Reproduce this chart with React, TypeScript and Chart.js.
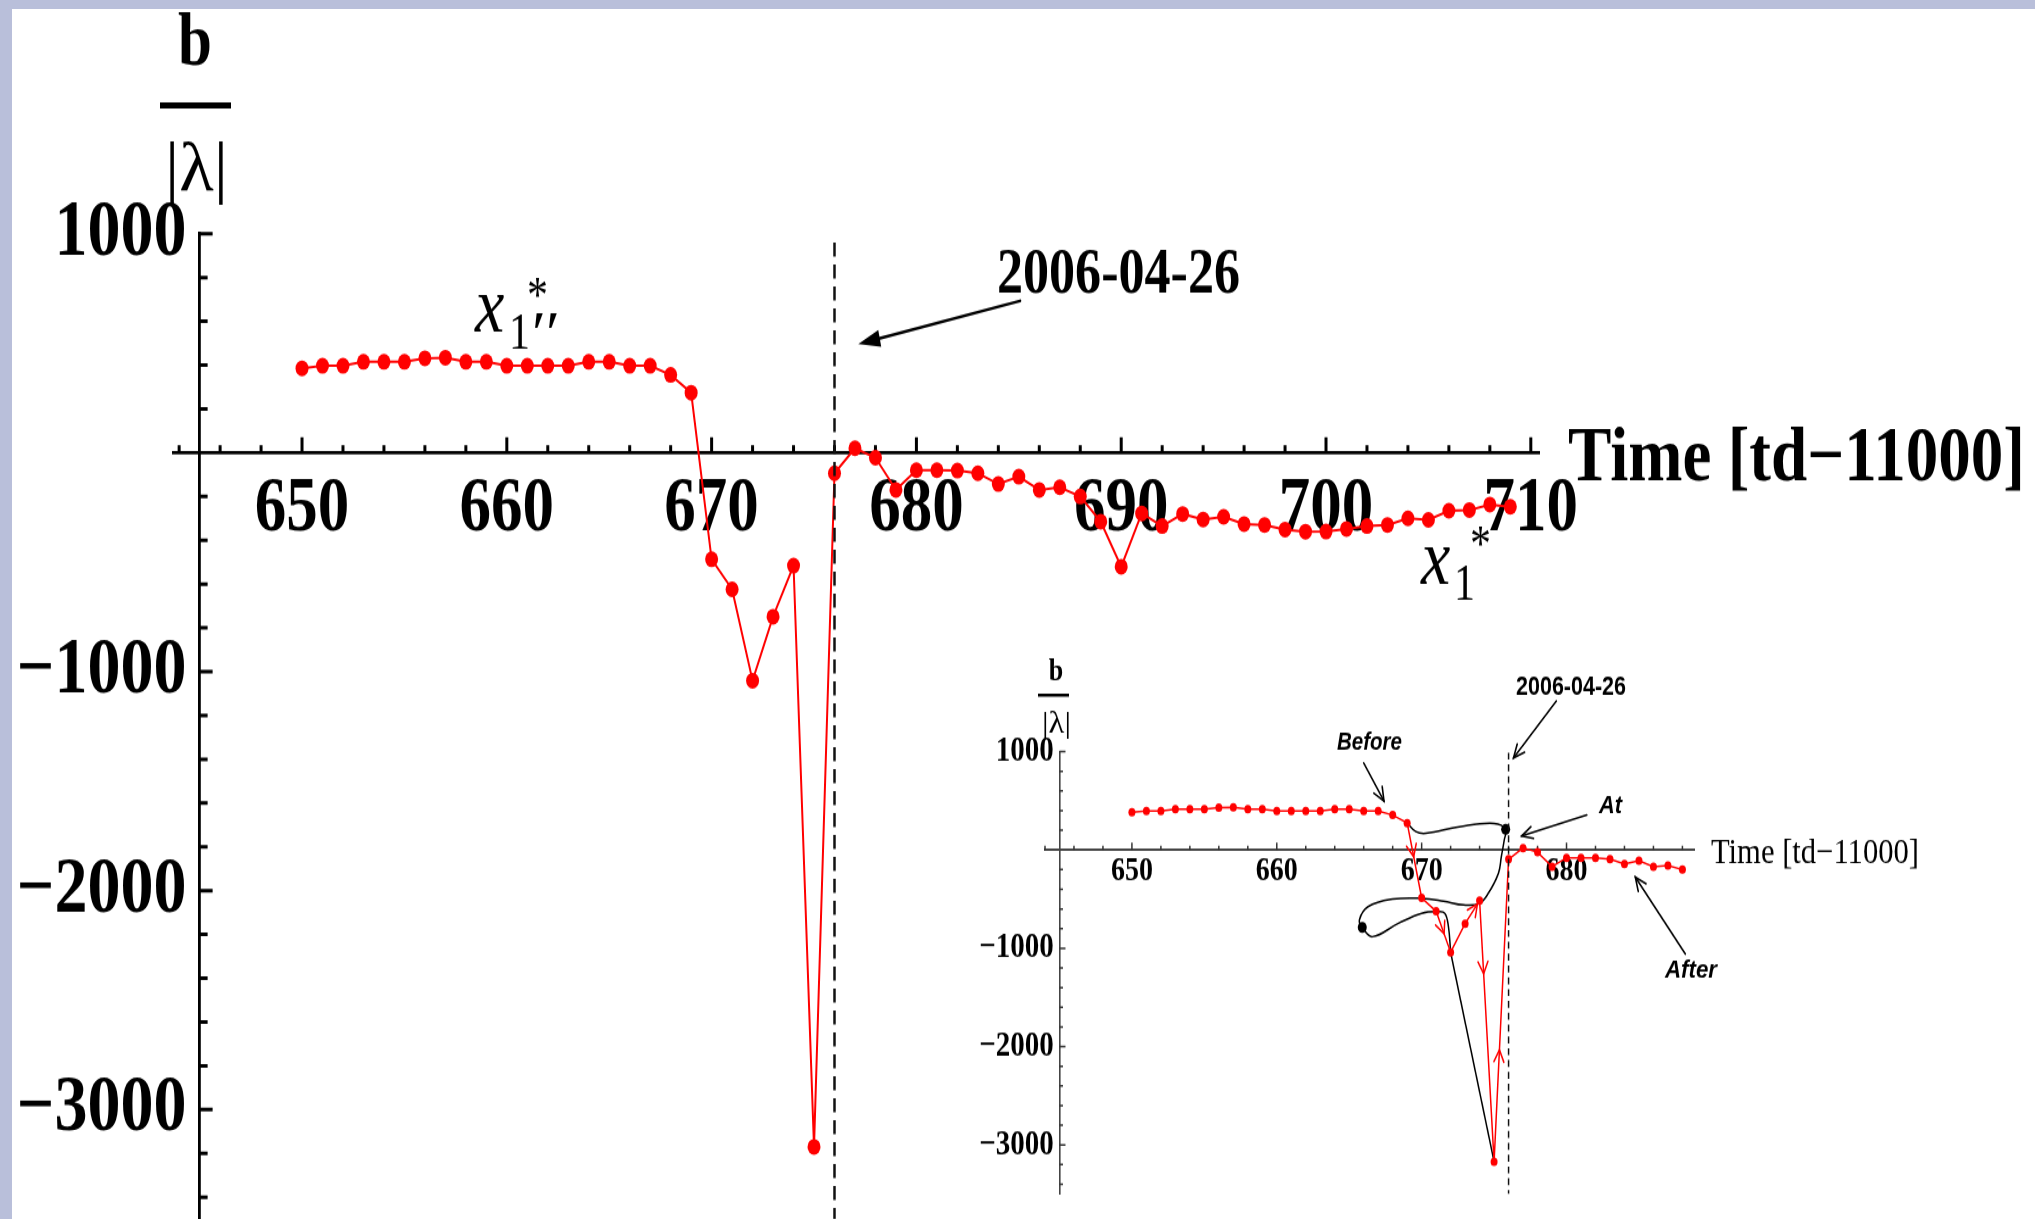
import React, { useEffect, useRef } from "react";
import { Chart, registerables } from "chart.js";

Chart.register(...registerables);

// ---------------- data ----------------
const days = [
  650, 651, 652, 653, 654, 655, 656, 657, 658, 659,
  660, 661, 662, 663, 664, 665, 666, 667, 668, 669,
  670, 671, 672, 673, 674, 675, 676, 677, 678, 679,
  680, 681, 682, 683, 684, 685, 686, 687, 688, 689,
  690, 691, 692, 693, 694, 695, 696, 697, 698, 699,
  700, 701, 702, 703, 704, 705, 706, 707, 708, 709,
];
const ratio = [
  385, 397, 397, 415, 415, 415, 431, 434, 415, 415,
  397, 397, 397, 397, 415, 415, 397, 397, 355, 274,
  -487, -624, -1041, -749, -516, -3170, -94, 20, -23, -170,
  -80, -80, -82, -94, -143, -110, -170, -158, -200, -315,
  -521, -277, -335, -280, -305, -293, -326, -330, -351, -361,
  -360, -348, -335, -330, -300, -307, -265, -262, -237, -247,
];
const insetLastDay = 688;
const eventDay = 676;
const eventLineTop = 960;
const eventLabel = "2006-04-26";
const xAxisTitle = "Time [td\u221211000]";
const yTitleTop = "b";
const yTitleBottom = "|\u03bb|";
const mainYLabels = [1000, -1000, -2000, -3000];
const mainXLabels = [650, 660, 670, 680, 690, 700, 710];
const insetXLabels = [650, 660, 670, 680];
const insetWords = ["Before", "At", "After"];
// hand-drawn black trajectory of the inset (data units)
const loopX = [669.0, 669.6, 670.3, 672.6, 675.0, 675.8, 675.7, 675.5, 675.3, 674.6, 674.0, 672.9, 671.5, 670.0, 668.0, 666.3, 665.7, 665.9, 666.6, 668.4, 670.0, 671.1, 671.6, 671.85, 672.0];
const loopY = [274, 187, 170, 237, 271, 210, 102, -68, -237, -441, -542, -559, -520, -492, -500, -577, -712, -787, -882, -746, -644, -627, -644, -780, -1041];
const tailX = [672.0, 675.0];
const tailY = [-1041, -3170];
const markX = [675.8, 665.9];
const markY = [210, -787];
// red direction arrows on inset segments: start day and fraction along segment
const flowFrom = [669, 671, 673, 674, 675];
const flowAt = [0.45, 0.55, 0.85, 0.28, 0.37];

// ---------------- drawing helpers ----------------
const STRETCH = 1.219;
const SERIF = '"Liberation Serif", "Times New Roman", Times, serif';
const SANS = '"Liberation Sans", Arial, sans-serif';

function fmt(v: number) {
  return (v < 0 ? "\u2212" + Math.abs(v) : String(v)) + "\u2009";
}

function txt(ctx: CanvasRenderingContext2D, s: string, x: number, y: number, font: string, align: string, width?: number) {
  ctx.save();
  ctx.font = font;
  ctx.textBaseline = "alphabetic";
  ctx.textAlign = "left";
  const m = ctx.measureText(s).width;
  const sx = width ? width / m : 1;
  const w = m * sx;
  const x0 = align === "left" ? x : align === "center" ? x - w / 2 : x - w;
  ctx.translate(x0, y);
  ctx.scale(sx, 1);
  ctx.fillStyle = "#000";
  ctx.fillText(s, 0, 0);
  ctx.restore();
}

function arrow(ctx: CanvasRenderingContext2D, x1: number, y1: number, x2: number, y2: number, o: any) {
  const a = Math.atan2(y2 - y1, x2 - x1);
  const c = Math.cos(a), s = Math.sin(a);
  ctx.save();
  ctx.strokeStyle = o.color;
  ctx.fillStyle = o.color;
  ctx.lineWidth = o.width;
  ctx.lineCap = "round";
  const bx = x2 - o.head * c, by = y2 - o.head * s;
  if (o.shaft !== false) {
    ctx.beginPath();
    ctx.moveTo(x1, y1);
    ctx.lineTo(o.filled ? bx + 2 * c : x2, o.filled ? by + 2 * s : y2);
    ctx.stroke();
  }
  const lx = bx + o.half * s, ly = by - o.half * c;
  const rx = bx - o.half * s, ry = by + o.half * c;
  ctx.beginPath();
  if (o.filled) {
    ctx.moveTo(x2, y2);
    ctx.lineTo(lx, ly);
    ctx.lineTo(rx, ry);
    ctx.closePath();
    ctx.fill();
  } else {
    ctx.moveTo(lx, ly);
    ctx.lineTo(x2, y2);
    ctx.lineTo(rx, ry);
    ctx.stroke();
  }
  ctx.restore();
}

function drawTicks(chart: any, o: any) {
  const ctx = chart.ctx;
  const xs = chart.scales.x, ys = chart.scales.y;
  const ay = ys.getPixelForValue(0);
  const ax = xs.getPixelForValue(645);
  ctx.save();
  ctx.strokeStyle = o.color;
  ctx.lineWidth = o.width;
  ctx.beginPath();
  xs.ticks.forEach((t: any) => {
    const px = xs.getPixelForValue(t.value);
    const len = Math.round(t.value) % 10 === 0 ? o.xMajor : o.xMinor;
    ctx.moveTo(px, ay);
    ctx.lineTo(px, ay - len);
  });
  ys.ticks.forEach((t: any) => {
    const v = Math.round(t.value);
    if (v === 0) return;
    const py = ys.getPixelForValue(t.value);
    const len = v % 1000 === 0 ? o.yMajor : o.yMinor;
    ctx.moveTo(ax, py);
    ctx.lineTo(ax + len, py);
  });
  ctx.stroke();
  ctx.restore();
}

function pts(xs: number[], ys: number[]) {
  return xs.map((x, i) => ({ x, y: ys[i] }));
}

export default function App() {
  const mainRef = useRef<HTMLCanvasElement>(null);
  const insetRef = useRef<HTMLCanvasElement>(null);

  useEffect(() => {
    const charts: any[] = [];
    const series = pts(days, ratio);

    // ---------- main chart ----------
    const mainYMin = -3499, mainYMax = 1000;
    const mainDecor = {
      id: "mainDecor",
      beforeDatasetsDraw(chart: any) {
        drawTicks(chart, { color: "#000", width: 3, xMajor: 12.5, xMinor: 6, yMajor: 13, yMinor: 8 });
      },
      afterDraw(chart: any) {
        const ctx = chart.ctx;
        const xs = chart.scales.x, ys = chart.scales.y;
        // y title fraction
        txt(ctx, yTitleTop, 195, 53.3, `bold 61px ${SERIF}`, "center");
        ctx.fillStyle = "#000";
        ctx.fillRect(160, 84, 71, 5);
        txt(ctx, yTitleBottom, 196.5, 156, `58px ${SERIF}`, "center", 63);
        // x title
        txt(ctx, xAxisTitle, 1568, 393.8, `bold 64px ${SERIF}`, "left", 457);
        // event label + arrow
        txt(ctx, eventLabel, 997, 239.5, `bold 52px ${SERIF}`, "left", 243);
        arrow(ctx, xs.getPixelForValue(685.06), ys.getPixelForValue(693), xs.getPixelForValue(677.16), ys.getPixelForValue(496),
          { color: "#000", width: 2.5, head: 22, half: 7, filled: true });
        // x1'' * label
        txt(ctx, "x", 475, 271.5, `italic 66px ${SERIF}`, "left");
        txt(ctx, "1", 509, 285.5, `42px ${SERIF}`, "left");
        txt(ctx, "\u2032\u2032", 528, 290, `italic 50px ${SERIF}`, "left", 28);
        txt(ctx, "*", 527, 256, `42px ${SERIF}`, "left");
        // x1 * label
        txt(ctx, "x", 1421, 479.1, `italic 66px ${SERIF}`, "left");
        txt(ctx, "1", 1454, 492.2, `42px ${SERIF}`, "left");
        txt(ctx, "*", 1470, 460, `42px ${SERIF}`, "left");
      },
    };

    charts.push(new Chart(mainRef.current as HTMLCanvasElement, {
      type: "scatter",
      data: {
        datasets: [
          {
            label: "event",
            data: [{ x: eventDay, y: eventLineTop }, { x: eventDay, y: mainYMin }],
            showLine: true,
            borderColor: "#111",
            borderWidth: 2.5,
            borderDash: [11.5, 6.5],
            pointRadius: 0,
          },
          {
            label: "b/|lambda|",
            data: series,
            showLine: true,
            borderColor: "#ff0000",
            borderWidth: 2,
            pointRadius: 6.5,
            pointHoverRadius: 6.5,
            pointBackgroundColor: "#ff0000",
            pointBorderWidth: 0,
          },
        ],
      },
      options: {
        animation: false,
        responsive: false,
        maintainAspectRatio: false,
        events: [],
        layout: { autoPadding: false, padding: { left: 173, right: 496, top: 191.7, bottom: 60 } },
        plugins: { legend: { display: false }, tooltip: { enabled: false } },
        scales: {
          x: {
            type: "linear",
            min: 643.7,
            max: 710.4,
            position: { y: 0 },
            afterFit: (s: any) => { s.height = 0; },
            grid: { display: false, drawTicks: false },
            border: { display: true, color: "#000", width: 2.8 },
            ticks: {
              stepSize: 2,
              includeBounds: false,
              autoSkip: false,
              maxRotation: 0,
              minRotation: 0,
              padding: 10,
              color: "#000",
              font: { family: SERIF, size: 63, weight: "bold" },
              callback: (v: any) => (mainXLabels.includes(Math.round(v)) ? String(Math.round(v)) : ""),
            },
          },
          y: {
            type: "linear",
            min: mainYMin,
            max: mainYMax,
            position: { x: 645 },
            afterFit: (s: any) => { s.width = 0; },
            grid: { display: false, drawTicks: false },
            border: { display: true, color: "#000", width: 2.8 },
            ticks: {
              stepSize: 200,
              includeBounds: false,
              autoSkip: false,
              padding: 10,
              color: "#000",
              font: { family: SERIF, size: 66, weight: "bold" },
              callback: (v: any) => (mainYLabels.includes(Math.round(v)) ? fmt(Math.round(v)) : ""),
            },
          },
        },
      },
      plugins: [mainDecor],
    } as any));

    // ---------- inset chart ----------
    const insetSeries = series.filter((p) => p.x <= insetLastDay);
    const insetYMin = -3500, insetYMax = 1000;
    const insetDecor = {
      id: "insetDecor",
      beforeDatasetsDraw(chart: any) {
        drawTicks(chart, { color: "#333", width: 1.5, xMajor: 6, xMinor: 3.5, yMajor: 6, yMinor: 3.5 });
      },
      afterDraw(chart: any) {
        const ctx = chart.ctx;
        const xs = chart.scales.x, ys = chart.scales.y;
        const P = (x: number, y: number) => [xs.getPixelForValue(x), ys.getPixelForValue(y)];
        txt(ctx, yTitleTop, 76, 32.8, `bold 26px ${SERIF}`, "center");
        ctx.fillStyle = "#000";
        ctx.fillRect(58, 44, 31, 2.5);
        txt(ctx, yTitleBottom, 76.5, 76.3, `26px ${SERIF}`, "center", 29);
        txt(ctx, xAxisTitle, 731, 183, `30px ${SERIF}`, "left", 208);
        txt(ctx, eventLabel, 536, 45.1, `bold 22px ${SANS}`, "left", 110);
        txt(ctx, insetWords[0], 357, 90.2, `italic bold 21px ${SANS}`, "left", 65);
        txt(ctx, insetWords[1], 619, 141.9, `italic bold 21px ${SANS}`, "left", 23);
        txt(ctx, insetWords[2], 685, 276.5, `italic bold 21px ${SANS}`, "left", 52);
        const blackArrow = { color: "#000", width: 1.6, head: 11, half: 5, filled: false };
        const arrows = [
          [679.3, 1516, 676.34, 936],
          [666.0, 885, 667.4, 498],
          [681.4, 356, 676.9, 142],
          [688.2, -1058, 684.75, -275],
        ];
        arrows.forEach((a) => {
          const [x1, y1] = P(a[0], a[1]);
          const [x2, y2] = P(a[2], a[3]);
          arrow(ctx, x1, y1, x2, y2, blackArrow);
        });
        // red direction arrowheads along data segments
        flowFrom.forEach((d, k) => {
          const i = days.indexOf(d);
          const [x1, y1] = P(days[i], ratio[i]);
          const [x2, y2] = P(days[i + 1], ratio[i + 1]);
          const t = flowAt[k];
          const tx = x1 + (x2 - x1) * t, ty = y1 + (y2 - y1) * t;
          arrow(ctx, x1, y1, tx, ty, { color: "#ff0000", width: 1.5, head: 10, half: 5, filled: false, shaft: false });
        });
      },
    };

    charts.push(new Chart(insetRef.current as HTMLCanvasElement, {
      type: "scatter",
      data: {
        datasets: [
          {
            label: "event",
            data: [{ x: eventDay, y: 990 }, { x: eventDay, y: insetYMin }],
            showLine: true,
            borderColor: "#111",
            borderWidth: 1.5,
            borderDash: [5.7, 4],
            pointRadius: 0,
          },
          {
            label: "marks",
            data: pts(markX, markY),
            pointRadius: 4.5,
            pointBackgroundColor: "#000",
            pointBorderWidth: 0,
          },
          {
            label: "b/|lambda|",
            data: insetSeries,
            showLine: true,
            borderColor: "#ff0000",
            borderWidth: 1.5,
            pointRadius: 3.5,
            pointBackgroundColor: "#ff0000",
            pointBorderWidth: 0,
          },
          {
            label: "loop",
            data: pts(loopX, loopY),
            showLine: true,
            borderColor: "#000",
            borderWidth: 1.5,
            tension: 0.4,
            pointRadius: 0,
          },
          {
            label: "tail",
            data: pts(tailX, tailY),
            showLine: true,
            borderColor: "#000",
            borderWidth: 1.5,
            pointRadius: 0,
          },
        ],
      },
      options: {
        animation: false,
        responsive: false,
        maintainAspectRatio: false,
        events: [],
        layout: { autoPadding: false, padding: { left: 65, right: 286, top: 91.6, bottom: 20.5 } },
        plugins: { legend: { display: false }, tooltip: { enabled: false } },
        scales: {
          x: {
            type: "linear",
            min: 644,
            max: 688.8,
            position: { y: 0 },
            afterFit: (s: any) => { s.height = 0; },
            grid: { display: false, drawTicks: false },
            border: { display: true, color: "#444", width: 2 },
            ticks: {
              stepSize: 2,
              includeBounds: false,
              autoSkip: false,
              maxRotation: 0,
              minRotation: 0,
              padding: 1,
              color: "#000",
              font: { family: SERIF, size: 28, weight: "bold" },
              callback: (v: any) => (insetXLabels.includes(Math.round(v)) ? String(Math.round(v)) : ""),
            },
          },
          y: {
            type: "linear",
            min: insetYMin,
            max: insetYMax,
            position: { x: 645 },
            afterFit: (s: any) => { s.width = 0; },
            grid: { display: false, drawTicks: false },
            border: { display: true, color: "#444", width: 1.6 },
            ticks: {
              stepSize: 200,
              includeBounds: false,
              autoSkip: false,
              color: "#000",
              font: { family: SERIF, size: 29, weight: "bold" },
              callback: (v: any) => (mainYLabels.includes(Math.round(v)) ? fmt(Math.round(v)) : ""),
            },
          },
        },
      },
      plugins: [insetDecor],
    } as any));

    return () => charts.forEach((c) => c.destroy());
  }, []);

  return (
    <div style={{ position: "fixed", left: 0, top: 0, width: 2035, height: 1219, background: "#fff", overflow: "hidden" }}>
      <canvas
        ref={mainRef}
        width={2035}
        height={1060}
        style={{ position: "absolute", left: 0, top: 0, width: "2035px", height: `${1060 * STRETCH}px` }}
      />
      <canvas
        ref={insetRef}
        width={1000}
        height={475}
        style={{ position: "absolute", left: 980, top: 640, width: "1000px", height: `${475 * STRETCH}px` }}
      />
      <div style={{ position: "absolute", left: 0, top: 0, width: 2035, height: 9, background: "#b9bfda" }} />
      <div style={{ position: "absolute", left: 0, top: 0, width: 12, height: 1219, background: "#b9bfda" }} />
    </div>
  );
}
